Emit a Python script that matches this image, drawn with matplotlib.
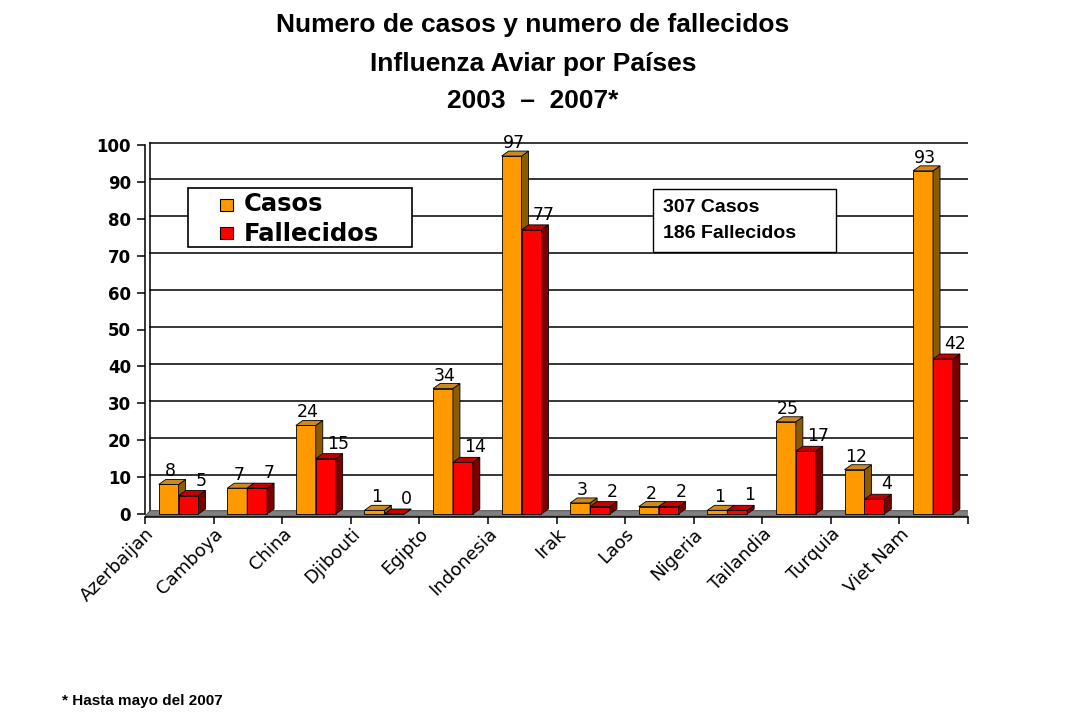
import matplotlib
matplotlib.use("Agg")
import matplotlib.pyplot as plt
from matplotlib.patches import Polygon, Rectangle

paises = ["Azerbaijan", "Camboya", "China", "Djibouti", "Egipto", "Indonesia",
          "Irak", "Laos", "Nigeria", "Tailandia", "Turquia", "Viet Nam"]
casos = [8, 7, 24, 1, 34, 97, 3, 2, 1, 25, 12, 93]
fallecidos = [5, 7, 15, 0, 14, 77, 2, 2, 1, 17, 4, 42]
y_ticks = list(range(0, 101, 10))
titulo = ["Numero de casos y numero de fallecidos",
          "Influenza Aviar por Países",
          "2003  –  2007*"]
resumen = ["307 Casos", "186 Fallecidos"]
nota = "* Hasta mayo del 2007"

arial = ["Liberation Sans", "DejaVu Sans"]
wide = ["DejaVu Sans"]

W, H = 1080, 720
def fx(px):
    return px / W
def fy(py):
    return 1 - py / H

fig = plt.figure(figsize=(10.8, 7.2), dpi=100)
# front plane: x 145 -> 968 px, y: 0 -> 514 px, 100 -> 145 px
ppu = (514 - 145) / 100.0
ymin, ymax = -0.7, 101
ax = fig.add_axes([fx(145), fy(514 + (-ymin) * ppu), (968 - 145) / W,
                   (ymax - ymin) * ppu / H])
ax.set_xlim(0, 12)
ax.set_ylim(ymin, ymax)
ax.set_facecolor("none")

cat_px = (968 - 145) / 12.0
wdx = 5 / cat_px          # wall offset
wdy = 2.5 / ppu
bdx = 7 / cat_px          # bar depth
bdy = 5 / ppu

# back wall grid
for v in y_ticks[1:]:
    ax.plot([wdx, 12 + wdx], [v + wdy, v + wdy], color="black", lw=1.1, zorder=1)
ax.plot([wdx, wdx], [wdy, 100 + wdy], color="black", lw=1.1, zorder=1)
ax.plot([12 + wdx, 12 + wdx], [wdy, 100 + wdy], color="black", lw=1.6, zorder=1)

# floor
ax.add_patch(Polygon([(0, -0.6), (12, -0.6), (12 + wdx, 0.9), (wdx, 0.9)],
                     closed=True, facecolor="#808080", edgecolor="#404040",
                     lw=0.6, zorder=2))

def bar3d(x0, w, v, front, side, top):
    x1 = x0 + w
    ax.add_patch(Rectangle((x0, 0), w, v, facecolor=front, edgecolor="black",
                           lw=0.6, zorder=3))
    ax.add_patch(Polygon([(x1, 0), (x1 + bdx, bdy), (x1 + bdx, v + bdy), (x1, v)],
                         closed=True, facecolor=side, edgecolor="black",
                         lw=0.6, zorder=3))
    ax.add_patch(Polygon([(x0, v), (x0 + bdx, v + bdy), (x1 + bdx, v + bdy), (x1, v)],
                         closed=True, facecolor=top, edgecolor="black",
                         lw=0.6, zorder=3))

bw = 0.29
for i, (c, f) in enumerate(zip(casos, fallecidos)):
    xo = i + 0.2
    xr = i + 0.49
    bar3d(xo, bw, c, "#FF9900", "#8C5A00", "#CC8A1E")
    bar3d(xr, bw, f, "#FF0000", "#7A0000", "#C40000")
    ax.annotate(str(c), (xo + bw / 2 + 0.03, c), xytext=(0, 13),
                textcoords="offset pixels", ha="center", va="center",
                fontsize=12.5, family=wide, zorder=5)
    ax.annotate(str(f), (xr + bw / 2 + 0.18, f), xytext=(0, 15),
                textcoords="offset pixels", ha="center", va="center",
                fontsize=12.5, family=wide, zorder=5)

# axes
for s in ["top", "right"]:
    ax.spines[s].set_visible(False)
ax.spines["left"].set_bounds(0, 100)
ax.spines["left"].set_linewidth(1.1)
ax.spines["bottom"].set_linewidth(1.1)
ax.set_yticks(y_ticks)
ax.set_yticklabels([str(v) for v in y_ticks], fontsize=12, fontweight="bold",
                   family=wide)
ax.set_xticks(range(13))
ax.set_xticklabels(paises + [""], rotation=45, ha="right", va="top",
                   rotation_mode="anchor", fontsize=13, family=wide)
ax.tick_params(axis="y", direction="out", length=6, width=1.1, pad=4)
ax.tick_params(axis="x", direction="out", length=5, width=1.1, pad=1)

# title and note
for line, yc in zip(titulo, [25, 64, 101]):
    fig.text(fx(533), fy(yc), line, ha="center", va="center", fontsize=19,
             fontweight="bold", family=arial)
fig.text(fx(62), fy(701), nota, ha="left", va="center", fontsize=11,
         fontweight="bold", family=arial)

# legend box
fig.add_artist(Rectangle((fx(188), fy(247)), (412 - 188) / W, (247 - 188) / H,
                         transform=fig.transFigure, facecolor="white",
                         edgecolor="black", lw=1.2, zorder=6))
fig.add_artist(Rectangle((fx(220), fy(211)), 13 / W, 12 / H, transform=fig.transFigure,
                         facecolor="#FF9900", edgecolor="black", lw=0.8, zorder=7))
fig.add_artist(Rectangle((fx(220), fy(239)), 13 / W, 12 / H, transform=fig.transFigure,
                         facecolor="#FF0000", edgecolor="black", lw=0.8, zorder=7))
fig.text(fx(244), fy(204), "Casos", ha="left", va="center", fontsize=17.5,
         fontweight="bold", family=wide, zorder=8)
fig.text(fx(244), fy(234), "Fallecidos", ha="left", va="center", fontsize=17.5,
         fontweight="bold", family=wide, zorder=8)

# summary box
fig.add_artist(Rectangle((fx(653), fy(252)), (836 - 653) / W, (252 - 189) / H,
                         transform=fig.transFigure, facecolor="white",
                         edgecolor="black", lw=1.0, zorder=6))
fig.text(fx(663), fy(208), resumen[0], ha="left", va="center", fontsize=14,
         fontweight="bold", family=arial, zorder=8)
fig.text(fx(663), fy(234), resumen[1], ha="left", va="center", fontsize=14,
         fontweight="bold", family=arial, zorder=8)

fig.savefig("out.png", dpi=100, facecolor="white")
